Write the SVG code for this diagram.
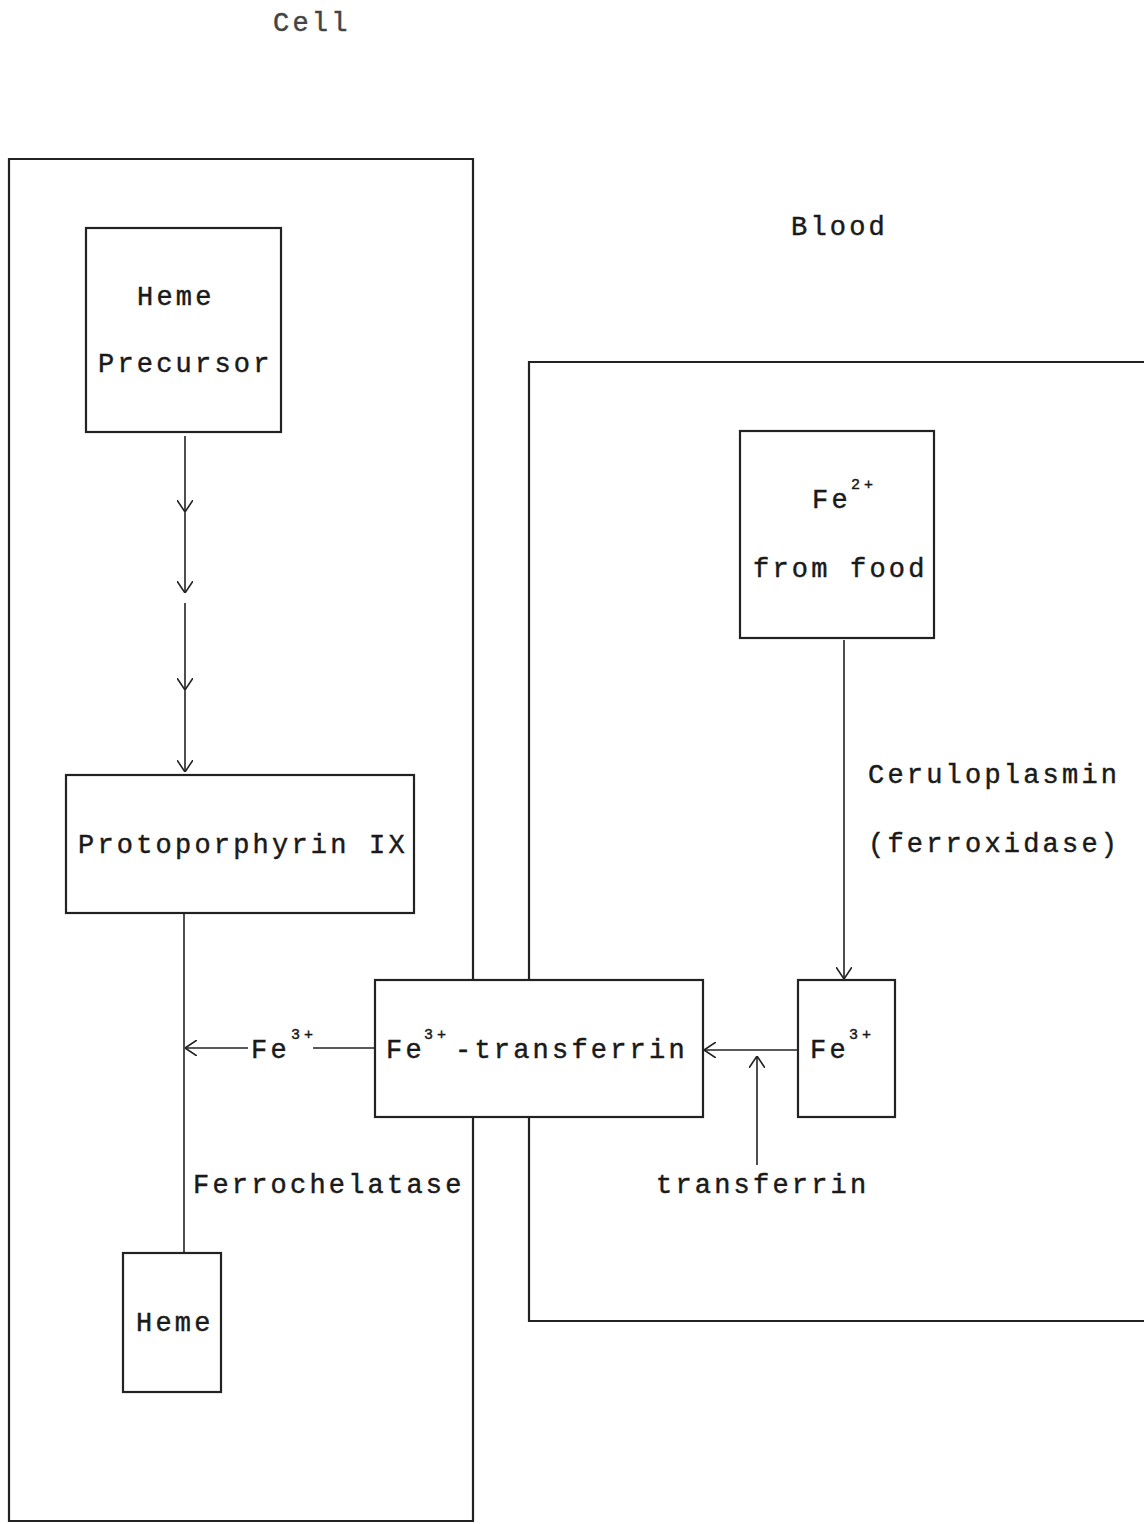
<svg xmlns="http://www.w3.org/2000/svg" width="1144" height="1524" viewBox="0 0 1144 1524">
<defs>
<style>
.box{fill:none;stroke:#222;stroke-width:2.2}
.ln{fill:none;stroke:#222;stroke-width:1.6}
.t{font-family:"Liberation Mono","DejaVu Sans Mono",monospace;font-size:27px;letter-spacing:3.2px;fill:#1a1a1a;stroke:#1a1a1a;stroke-width:0.45}
.sup{font-size:15px;letter-spacing:4px}
</style>
<marker id="ah" viewBox="0 0 12 16" refX="12" refY="8" markerWidth="12" markerHeight="16" markerUnits="userSpaceOnUse" orient="auto">
<path d="M0,0 L12,8 L0,16" fill="none" stroke="#222" stroke-width="1.6"/>
</marker>
</defs>
<rect width="1144" height="1524" fill="#fff"/>
<g id="cell-compartment">
<path class="box" d="M473,980 L473,159 L9,159 L9,1521 L473,1521 L473,1117"/>
<text class="t" x="273" y="31" style="fill:#444;stroke:#444">Cell</text>
</g>
<g id="blood-compartment">
<path class="box" d="M529,980 L529,362 L1146,362 L1146,1321 L529,1321 L529,1117"/>
<text class="t" x="791" y="235">Blood</text>
</g>
<g id="heme-precursor">
<rect class="box" x="86" y="228" width="195" height="204"/>
<text class="t" x="137" y="305">Heme</text>
<text class="t" x="98" y="372">Precursor</text>
</g>
<g id="protoporphyrin">
<rect class="box" x="66" y="775" width="348" height="138"/>
<text class="t" x="78" y="853">Protoporphyrin IX</text>
</g>
<g id="heme">
<rect class="box" x="123" y="1253" width="98" height="139"/>
<text class="t" x="136" y="1331">Heme</text>
</g>
<g id="fe3-transferrin">
<rect class="box" x="375" y="980" width="328" height="137"/>
<text class="t" y="1058"><tspan x="386">Fe</tspan><tspan class="sup" x="424" y="1039">3+</tspan><tspan x="455" y="1058">-transferrin</tspan></text>
</g>
<g id="fe2-food">
<rect class="box" x="740" y="431" width="194" height="207"/>
<text class="t" y="508"><tspan x="812">Fe</tspan><tspan class="sup" x="851" y="489">2+</tspan></text>
<text class="t" x="753" y="577">from food</text>
</g>
<g id="fe3-blood">
<rect class="box" x="798" y="980" width="97" height="137"/>
<text class="t" y="1058"><tspan x="810">Fe</tspan><tspan class="sup" x="849" y="1039">3+</tspan></text>
</g>
<g id="connectors">
<line class="ln" x1="185" y1="436" x2="185" y2="512" marker-end="url(#ah)"/>
<line class="ln" x1="185" y1="512" x2="185" y2="593" marker-end="url(#ah)"/>
<line class="ln" x1="185" y1="603" x2="185" y2="690" marker-end="url(#ah)"/>
<line class="ln" x1="185" y1="690" x2="185" y2="772" marker-end="url(#ah)"/>
<line class="ln" x1="184" y1="913" x2="184" y2="1253"/>
<line class="ln" x1="375" y1="1048" x2="313" y2="1048"/>
<line class="ln" x1="248" y1="1048" x2="185" y2="1048" marker-end="url(#ah)"/>
<line class="ln" x1="798" y1="1050" x2="704" y2="1050" marker-end="url(#ah)"/>
<line class="ln" x1="757" y1="1165" x2="757" y2="1056" marker-end="url(#ah)"/>
<line class="ln" x1="844" y1="640" x2="844" y2="979" marker-end="url(#ah)"/>
</g>
<g id="labels">
<text class="t" x="868" y="783">Ceruloplasmin</text>
<text class="t" x="868" y="852">(ferroxidase)</text>
<text class="t" x="193" y="1193">Ferrochelatase</text>
<text class="t" x="656" y="1193">transferrin</text>
<text class="t" y="1058"><tspan x="251">Fe</tspan><tspan class="sup" x="291" y="1039">3+</tspan></text>
</g>
</svg>
